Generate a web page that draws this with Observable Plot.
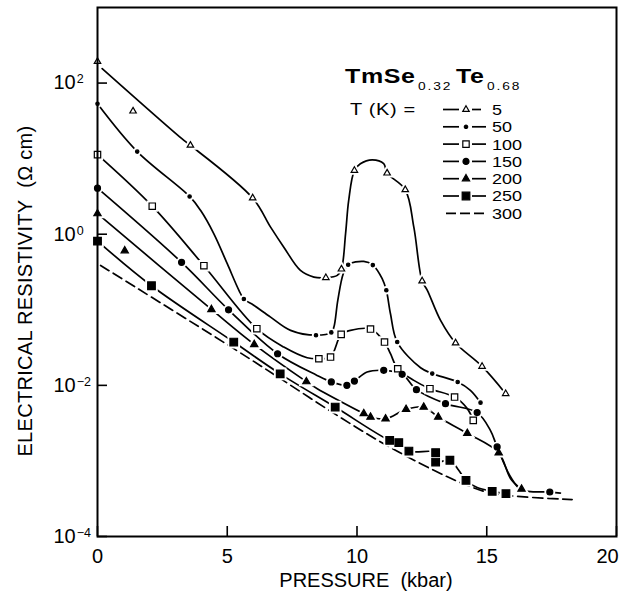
<!DOCTYPE html>
<html><head><meta charset="utf-8">
<script src="https://cdn.jsdelivr.net/npm/d3@7"></script>
<script src="https://cdn.jsdelivr.net/npm/@observablehq/plot@0.6"></script>
<style>body{margin:0;background:#fff} #chart{width:628px;height:596px}</style>
</head><body><div id="chart"></div>
<script>
// Temperatures (K)
const temps = [5, 50, 100, 150, 200, 250, 300];

// 5 K : measured points and drawn curve (pressure kbar, resistivity ohm cm)
const p5 = [0, 1.37, 3.58, 5.98, 8.80, 9.40, 9.90, 11.16, 11.86, 12.51, 13.80, 14.82, 15.73];
const rho5 = [193, 42.5, 15.0, 3.01, 0.266, 0.345, 6.98, 6.43, 3.88, 0.240, 0.0363, 0.0178, 0.00776];
const p5c = [0.18, 3.33, 3.58, 5.98, 6.67, 7.18, 7.82, 8.34, 8.80, 9.24, 9.40, 9.56, 9.68, 9.90, 10.13, 10.59, 11.03, 11.16, 11.86, 12.19, 12.51, 12.71, 13.22, 13.80, 14.82, 15.73];
const rho5c = [155, 17.4, 15.0, 3.01, 1.24, 0.674, 0.332, 0.271, 0.266, 0.285, 0.345, 1.02, 2.80, 6.98, 8.57, 9.66, 8.57, 6.43, 3.88, 1.24, 0.240, 0.181, 0.0724, 0.0363, 0.0178, 0.00776];

// 50 K
const p50 = [0, 1.53, 3.55, 5.64, 8.42, 9.01, 9.66, 10.61, 11.13, 11.55, 12.90, 13.88, 14.76];
const rho50 = [53.2, 12.4, 3.16, 0.139, 0.0461, 0.0502, 0.395, 0.390, 0.181, 0.0374, 0.0143, 0.0111, 0.0059];
const p50c = [0, 1.53, 3.55, 3.97, 4.48, 5.0, 5.45, 5.64, 6.02, 6.67, 7.44, 8.42, 9.01, 9.11, 9.26, 9.47, 9.66, 10.26, 10.61, 10.97, 11.13, 11.29, 11.55, 12.45, 12.90, 13.88, 14.37, 14.76];
const rho50c = [53.2, 12.4, 3.16, 2.07, 1.02, 0.407, 0.181, 0.139, 0.115, 0.080, 0.0534, 0.0461, 0.0502, 0.059, 0.133, 0.300, 0.395, 0.437, 0.390, 0.258, 0.181, 0.0887, 0.0374, 0.0171, 0.0143, 0.0111, 0.00859, 0.0059];

// 100 K
const p100 = [0, 2.11, 4.10, 6.14, 8.53, 8.98, 9.39, 10.52, 11.06, 11.57, 12.81, 13.76, 14.48];
const rho100 = [11.3, 2.35, 0.383, 0.0562, 0.0225, 0.0237, 0.0473, 0.0556, 0.0374, 0.0166, 0.00904, 0.0070, 0.00344];
const p100c = [0, 2.11, 4.10, 6.14, 7.18, 8.08, 8.53, 8.98, 9.39, 9.75, 10.52, 11.06, 11.29, 11.57, 12.19, 12.81, 13.76, 14.25, 14.48];
const rho100c = [11.3, 2.35, 0.383, 0.0562, 0.0321, 0.0232, 0.0225, 0.0237, 0.0473, 0.0534, 0.0556, 0.0374, 0.0262, 0.0166, 0.01164, 0.00904, 0.0070, 0.00492, 0.00344];

// 150 K
const p150 = [0, 3.24, 5.05, 6.94, 9.01, 9.61, 9.90, 11.03, 11.74, 12.29, 13.41, 14.63, 15.40, 17.43];
const rho150 = [4.07, 0.424, 0.100, 0.0262, 0.0111, 0.0100, 0.0114, 0.0158, 0.0140, 0.00877, 0.00573, 0.00436, 0.00153, 0.000388];
const p150c = [0, 3.24, 5.05, 6.94, 8.46, 9.01, 9.61, 9.90, 10.39, 11.03, 11.74, 12.29, 13.41, 14.63, 15.14, 15.40, 15.92, 16.33, 17.43, 17.84];
const rho150c = [4.07, 0.424, 0.100, 0.0262, 0.01355, 0.0111, 0.0100, 0.0114, 0.0150, 0.0158, 0.0140, 0.00877, 0.00573, 0.00436, 0.00254, 0.00153, 0.000612, 0.000417, 0.000388, 0.000376];

// 200 K
const p200 = [0, 1.05, 4.39, 6.04, 8.05, 10.26, 10.52, 11.10, 11.89, 12.57, 13.13, 14.25, 15.46, 16.34];
const rho200 = [1.87, 0.605, 0.101, 0.0348, 0.0112, 0.00423, 0.00381, 0.00361, 0.00482, 0.00516, 0.00381, 0.00232, 0.00128, 0.000424];
const p200c = [0, 4.39, 6.04, 8.05, 8.47, 10.26, 10.52, 11.10, 11.89, 12.57, 13.13, 14.25, 15.46, 15.92, 16.34];
const rho200c = [1.87, 0.101, 0.0348, 0.0112, 0.00904, 0.00423, 0.00381, 0.00361, 0.00482, 0.00516, 0.00381, 0.00232, 0.00128, 0.000583, 0.000424];

// 250 K
const p250 = [0, 2.08, 5.25, 7.04, 9.16, 11.26, 11.61, 12.0, 13.03, 13.03, 13.58, 14.20, 15.21, 15.74];
const rho250 = [0.811, 0.208, 0.0374, 0.0142, 0.00516, 0.00187, 0.00175, 0.00135, 0.00129, 0.000966, 0.00102, 0.000553, 0.000396, 0.000369];
const p250c = [0, 2.08, 5.25, 7.04, 9.16, 11.26, 11.61, 12.0, 13.03, 13.03, 13.58, 13.92, 14.20, 14.63, 15.21, 15.74];
const rho250c = [0.811, 0.208, 0.0374, 0.0142, 0.00516, 0.00187, 0.00175, 0.00135, 0.00129, 0.000966, 0.00102, 0.000752, 0.000553, 0.000444, 0.000396, 0.000369];

// 300 K (curve only)
const p300 = [0.12, 5.25, 7.05, 9.11, 11.03, 12.96, 14.25, 15.27, 18.29];
const rho300 = [0.386, 0.0306, 0.01227, 0.00426, 0.00169, 0.000752, 0.000475, 0.000369, 0.000308];

// Axis ticks
const xTicks = [0, 5, 10, 15, 20];
const yTicks = [1e2, 1e0, 1e-2, 1e-4];

const font = "'Liberation Sans', Arial, Helvetica, sans-serif";
const styleOf = {
  5:   {symbol: "triangle", r: 2.4, fill: "white"},
  50:  {symbol: "circle",   r: 1.7, fill: "black"},
  100: {symbol: "square",   r: 3.6, fill: "white"},
  150: {symbol: "circle",   r: 3.0, fill: "black"},
  200: {symbol: "triangle", r: 2.7, fill: "black"},
  250: {symbol: "square",   r: 4.3, fill: "black"}
};

function rows(T, ps, rs) { return ps.map((p, i) => ({T, p, rho: rs[i]})); }

const markerSeries = [[5, p5, rho5], [50, p50, rho50], [100, p100, rho100], [150, p150, rho150], [200, p200, rho200], [250, p250, rho250]];
const curveSeries = [[5, p5c, rho5c], [50, p50c, rho50c], [100, p100c, rho100c], [150, p150c, rho150c], [200, p200c, rho200c], [250, p250c, rho250c]];
const solid = curveSeries.flatMap(([T, ps, rs]) => rows(T, ps, rs));
const dashed = rows(300, p300, rho300);

const chart = Plot.plot({
  width: 628, height: 596,
  marginLeft: 97, marginRight: 12, marginTop: 7, marginBottom: 60,
  style: {fontFamily: font, fontSize: "20px", color: "black", background: "white"},
  x: {domain: [0, 20]},
  y: {type: "log", domain: [1e-4, 1e3]},
  marks: [
    Plot.line(solid, {x: "p", y: "rho", z: "T", curve: "catmull-rom", stroke: "black", strokeWidth: 1.7}),
    Plot.line(dashed, {x: "p", y: "rho", curve: "catmull-rom", stroke: "black", strokeWidth: 1.7, strokeDasharray: "10,5"}),
    ...markerSeries.map(([T, ps, rs]) => Plot.dot(rows(T, ps, rs), {x: "p", y: "rho", symbol: styleOf[T].symbol, r: styleOf[T].r, fill: "white", stroke: "white", strokeWidth: 5})),
    ...markerSeries.map(([T, ps, rs]) => Plot.dot(rows(T, ps, rs), {x: "p", y: "rho", symbol: styleOf[T].symbol, r: styleOf[T].r, fill: styleOf[T].fill, stroke: "black", strokeWidth: 1.2})),
    Plot.frame({stroke: "black", strokeWidth: 2}),
    Plot.axisX({ticks: xTicks, tickSize: -10, tickPadding: 22, fontSize: 20, label: null, strokeWidth: 1.6}),
    Plot.axisY({ticks: yTicks, tickSize: -10, tickPadding: 54, textAnchor: "start", fontSize: 20, label: null, strokeWidth: 1.6,
      tickFormat: d => "10^" + Math.round(Math.log10(d))})
  ]
});
document.getElementById("chart").appendChild(chart);

const svg = d3.select(chart);
// superscript exponents on the y tick labels
svg.selectAll('g[aria-label="y-axis tick label"] text').each(function() {
  const s = this.textContent;
  if (!s.includes("^")) return;
  const [base, ex] = s.split("^");
  const el = d3.select(this);
  el.text(null);
  el.append("tspan").text(base);
  el.append("tspan").attr("font-size", 12.5).attr("dx", 1).attr("dy", -6).text(ex.replace("-", "\u2212"));
});
svg.selectAll('g[aria-label="x-axis tick label"] text').each(function() {
  if (this.textContent === "20") d3.select(this).attr("dx", -9);
});

const lg = svg.append("g").attr("font-family", font).attr("fill", "black").attr("text-anchor", "start");
// axis titles
lg.append("text").attr("x", 366).attr("y", 587).attr("text-anchor", "middle").attr("font-size", 20)
  .text("PRESSURE\u00a0 (kbar)");
lg.append("text").attr("transform", "translate(32,291) rotate(-90)").attr("text-anchor", "middle").attr("font-size", 20)
  .attr("letter-spacing", 0.3)
  .text("ELECTRICAL RESISTIVITY\u00a0 (\u03a9 cm)");

// compound title
const t = lg.append("text").attr("transform", "translate(345,83) scale(1.25,1)");
t.append("tspan").attr("font-weight", "bold").attr("font-size", 20).attr("letter-spacing", 0.5).text("TmSe");
t.append("tspan").attr("font-size", 11).attr("letter-spacing", 1.5).attr("dx", 2).attr("dy", 7).text("0.32");
t.append("tspan").attr("font-weight", "bold").attr("font-size", 20).attr("letter-spacing", 0.5).attr("dx", 3).attr("dy", -7).text("Te");
t.append("tspan").attr("font-size", 11).attr("letter-spacing", 1.5).attr("dx", 2).attr("dy", 7).text("0.68");
lg.append("text").attr("transform", "translate(350,115) scale(1.25,1)").attr("font-size", 16).attr("letter-spacing", 0.5).text("T (K) =");

const symType = {triangle: d3.symbolTriangle, circle: d3.symbolCircle, square: d3.symbolSquare};
temps.forEach((T, i) => {
  const cy = 109.5 + i * 17.3;
  lg.append("text").attr("transform", `translate(492,${cy}) scale(1.2,1)`).attr("dy", "0.36em").attr("font-size", 15).text(T);
  if (T === 300) {
    lg.append("line").attr("x1", 446).attr("x2", 486).attr("y1", cy).attr("y2", cy)
      .attr("stroke", "black").attr("stroke-width", 1.7).attr("stroke-dasharray", "10,4");
    return;
  }
  const st = styleOf[T];
  lg.append("line").attr("x1", 443).attr("x2", 459).attr("y1", cy).attr("y2", cy).attr("stroke", "black").attr("stroke-width", 1.7);
  lg.append("line").attr("x1", 472).attr("x2", T === 5 ? 481 : 486).attr("y1", cy).attr("y2", cy).attr("stroke", "black").attr("stroke-width", 1.7);
  lg.append("path").attr("d", d3.symbol(symType[st.symbol], Math.PI * st.r * st.r)())
    .attr("transform", `translate(466,${cy})`).attr("fill", st.fill).attr("stroke", "black").attr("stroke-width", 1.2);
});
</script>
</body></html>
